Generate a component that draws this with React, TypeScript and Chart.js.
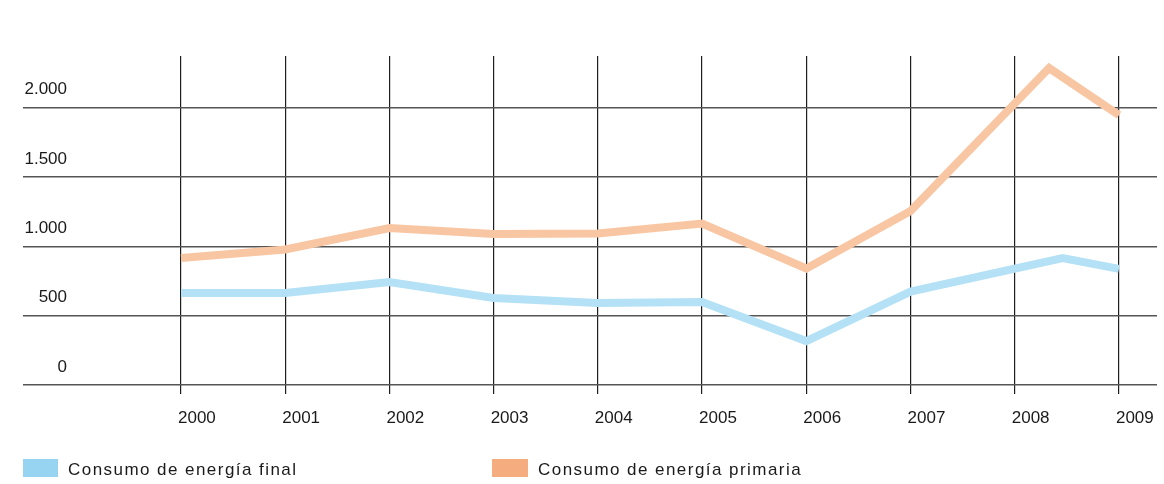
import React, { useEffect, useRef } from 'react';
import { Chart, registerables } from 'chart.js';

Chart.register(...registerables);

const seriesNames = ['Consumo de energía final', 'Consumo de energía primaria'];
const finalYears = [2000, 2001, 2002, 2003, 2004, 2005, 2006, 2007, 2008.46, 2009];
const finalValues = [663, 663, 743, 627, 591, 599, 317, 674, 916, 837];
const primaryYears = [2000, 2001, 2002, 2003, 2004, 2005, 2006, 2007, 2008.33, 2009];
const primaryValues = [916, 977, 1132, 1089, 1093, 1165, 840, 1255, 2286, 1947];
const xTickValues = [2000, 2001, 2002, 2003, 2004, 2005, 2006, 2007, 2008, 2009];
const xTickLabels = ['2000', '2001', '2002', '2003', '2004', '2005', '2006', '2007', '2008', '2009'];
const yTickValues = [0, 500, 1000, 1500, 2000];
const yTickLabels = ['0', '500', '1.000', '1.500', '2.000'];

const lineColors = ['#b4e1f5', '#f8c6a3'];
const legendColors = ['#97d4f1', '#f5ad7f'];
const FONT = "'Liberation Sans', Arial, sans-serif";

export default function App() {
  const canvasRef = useRef<HTMLCanvasElement | null>(null);

  useEffect(() => {
    const canvas = canvasRef.current;
    if (!canvas) return;
    const chart = new Chart(canvas, {
      type: 'line',
      data: {
        datasets: [
          {
            label: seriesNames[0],
            data: finalYears.map((x, i) => ({ x, y: finalValues[i] })),
            borderColor: lineColors[0],
            backgroundColor: lineColors[0],
            borderWidth: 8,
            borderCapStyle: 'butt',
            borderJoinStyle: 'miter',
            pointRadius: 0,
            tension: 0,
          },
          {
            label: seriesNames[1],
            data: primaryYears.map((x, i) => ({ x, y: primaryValues[i] })),
            borderColor: lineColors[1],
            backgroundColor: lineColors[1],
            borderWidth: 8,
            borderCapStyle: 'butt',
            borderJoinStyle: 'miter',
            pointRadius: 0,
            tension: 0,
          },
        ],
      },
      options: {
        responsive: false,
        animation: false,
        layout: { padding: { left: 0, right: 7, top: 56, bottom: 0 } },
        plugins: {
          legend: { display: false },
          tooltip: { enabled: false },
        },
        scales: {
          x: {
            type: 'linear',
            min: 1999.2228,
            max: 2009.365,
            afterBuildTicks: (s: any) => {
              s.ticks = xTickValues.map((v) => ({ value: v }));
            },
            afterFit: (s: any) => {
              s.height = 90;
              s.paddingLeft = 0;
              s.paddingRight = 0;
            },
            grid: { color: '#1e1e1e', lineWidth: 1.2, drawTicks: false },
            border: { display: false },
            ticks: {
              align: 'start',
              labelOffset: -3,
              padding: 14,
              maxRotation: 0,
              autoSkip: false,
              color: '#1a1a1a',
              font: { family: FONT, size: 17 },
              callback: (_v: any, i: number) => xTickLabels[i],
            },
          },
          y: {
            type: 'linear',
            min: -65,
            max: 2373,
            afterBuildTicks: (s: any) => {
              s.ticks = yTickValues.map((v) => ({ value: v }));
            },
            afterFit: (s: any) => {
              s.width = 100;
              s.paddingTop = 0;
              s.paddingBottom = 0;
            },
            grid: { color: '#555555', lineWidth: 1.5, drawTicks: true, tickLength: 77 },
            border: { display: false },
            ticks: {
              padding: -44,
              labelOffset: -18,
              autoSkip: false,
              color: '#1a1a1a',
              font: { family: FONT, size: 17 },
              callback: (_v: any, i: number) => yTickLabels[i],
            },
          },
        },
      } as any,
    });
    return () => chart.destroy();
  }, []);

  const legendItem = (i: number, boxLeft: number, boxWidth: number, textLeft: number) => (
    <React.Fragment key={i}>
      <div
        style={{
          position: 'absolute',
          left: boxLeft,
          top: 459,
          width: boxWidth,
          height: 18,
          background: legendColors[i],
        }}
      />
      <div
        style={{
          position: 'absolute',
          left: textLeft,
          top: 461,
          fontFamily: FONT,
          fontSize: 17,
          lineHeight: '18px',
          letterSpacing: '1.45px',
          color: '#1a1a1a',
          whiteSpace: 'nowrap',
        }}
      >
        {seriesNames[i]}
      </div>
    </React.Fragment>
  );

  return (
    <div
      style={{
        position: 'fixed',
        left: 0,
        top: 0,
        width: 1164,
        height: 484,
        background: '#ffffff',
        overflow: 'hidden',
      }}
    >
      <canvas
        ref={canvasRef}
        width={1164}
        height={484}
        style={{ display: 'block', width: 1164, height: 484 }}
      />
      {legendItem(0, 23, 35, 68)}
      {legendItem(1, 492, 36, 538)}
    </div>
  );
}
